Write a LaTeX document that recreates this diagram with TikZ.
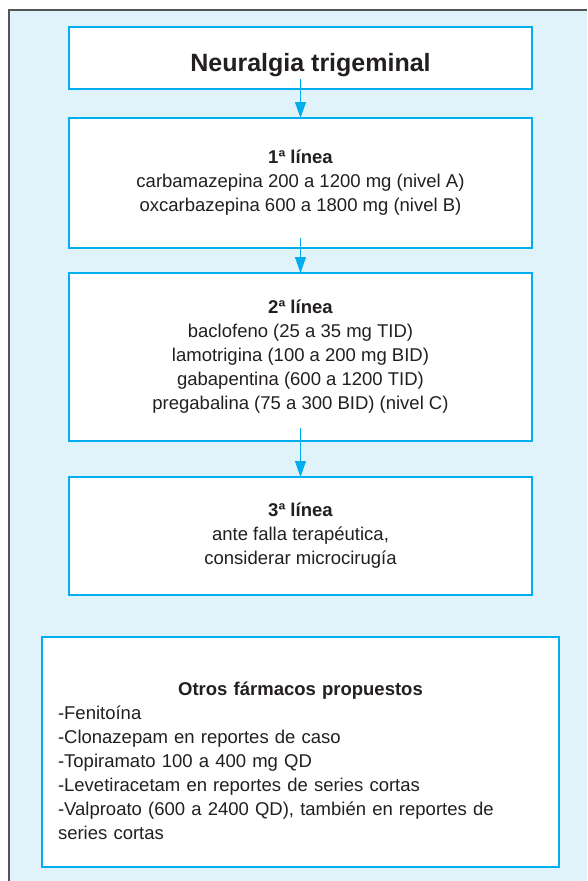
\documentclass[tikz,border=0pt]{standalone}
\usepackage{fontspec}
\setmainfont{Liberation Sans}
\usetikzlibrary{positioning,arrows.meta}
\definecolor{boxblue}{RGB}{0,174,239}
\definecolor{panelblue}{RGB}{224,242,250}
\definecolor{framegray}{RGB}{85,85,87}
\definecolor{textgray}{RGB}{35,31,32}
\tikzset{>={Triangle[length=16pt,width=11pt]}, % narrow filled arrow heads
node distance=29pt, % gap between two boxes. Changed per box below.
every node/.style={text=textgray, font=\fontsize{18.5}{24}\selectfont}, % text of all boxes
stage/.style={draw=boxblue, line width=1.5pt, fill=white, minimum width=463pt, align=center, inner sep=0pt, outer sep=0pt}, % one box of the chart
link/.style={->, draw=boxblue, line width=1pt}, % arrow between two boxes
}
\begin{document}
\begin{tikzpicture}
\useasboundingbox (0,0) rectangle (587pt,-881pt);
\fill[panelblue] (9pt,-10pt) rectangle (587pt,-881pt);
\draw[framegray, line width=1.5pt] (9pt,-881pt) |- (587pt,-10pt);
\node[stage, minimum height=62pt, font=\fontsize{25}{30}\selectfont\bfseries] (0) at (300.5pt,-58pt) {\hspace*{20pt}\rule{0pt}{32pt}Neuralgia trigeminal};
\node[stage, minimum height=130pt, below=of 0] (1) {\textbf{1ª línea}\\carbamazepina 200 a 1200 mg (nivel A)\\oxcarbazepina 600 a 1800 mg (nivel B)};
\node[stage, minimum height=168pt, below=25pt of 1] (2) {\textbf{2ª línea}\\baclofeno (25 a 35 mg TID)\\lamotrigina (100 a 200 mg BID)\\gabapentina (600 a 1200 TID)\\pregabalina (75 a 300 BID) (nivel C)};
\node[stage, minimum height=118pt, below=36pt of 2] (3) {\textbf{3ª línea}\\ante falla terapéutica,\\considerar microcirugía};
\node[stage, minimum width=517pt, minimum height=230pt, below=42pt of 3, align=left, text width=485pt] (4) {\rule{0pt}{31pt}\makebox[485pt][c]{\textbf{Otros fármacos propuestos}}\\-Fenitoína\\-Clonazepam en reportes de caso\\-Topiramato 100 a 400 mg QD\\-Levetiracetam en reportes de series cortas\\-Valproato (600 a 2400 QD), también en reportes de\\series cortas};
\draw[link] ([yshift=10pt]0.south) -- (1.north);
\draw[link] ([yshift=10pt]1.south) -- (2.north);
\draw[link] ([yshift=13pt]2.south) -- (3.north);
\end{tikzpicture}
\end{document}
